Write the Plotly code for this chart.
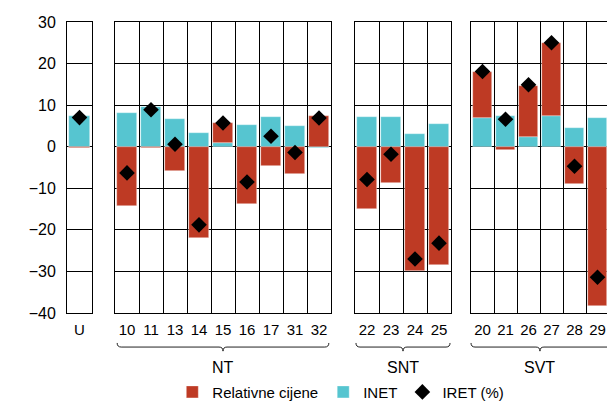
import plotly.graph_objects as go
from plotly.subplots import make_subplots

# groups and categories
groups = ["", "NT", "SNT", "SVT"]
cats = [["U"],
	["10", "11", "13", "14", "15", "16", "17", "31", "32"],
	["22", "23", "24", "25"],
	["20", "21", "26", "27", "28", "29"]]

inet = [[7.4],
	[8.0, 9.5, 6.6, 3.4, 0.8, 5.3, 7.1, 5.0, -0.4],
	[7.1, 7.1, 3.0, 5.4],
	[6.8, 7.5, 2.4, 7.3, 4.5, 6.9]]

rel = [[-0.3],
	[-14.2, -0.4, -5.9, -22.0, 4.9, -13.7, -4.6, -6.5, 7.4],
	[-14.9, -8.7, -30.0, -28.4],
	[11.2, -0.8, 12.3, 17.6, -9.0, -38.2]]

iret = [[7.0],
	[-6.3, 8.9, 0.6, -18.8, 5.7, -8.5, 2.5, -1.4, 6.9],
	[-7.9, -1.8, -27.0, -23.2],
	[18.1, 6.6, 14.9, 25.0, -4.7, -31.4]]

red = '#BE3A24'
teal = '#56C5D0'
font = "Liberation Sans, Arial, sans-serif"

# page body has an 8px margin: keep the whole figure inside the window
PW = 540.0
domains = [[0, 25 / PW], [48 / PW, 264 / PW], [288 / PW, 384 / PW], [404 / PW, 1]]

fig = make_subplots(rows=1, cols=4, shared_yaxes=True, horizontal_spacing=0)

for i in range(4):
	col = i + 1
	first = (i == 0)
	fig.add_trace(go.Bar(x=cats[i], y=inet[i], name='INET', marker_color=teal,
		width=0.82, showlegend=first, legendrank=2,
		marker_line=dict(width=0.6, color='rgba(255,255,255,0.6)')), row=1, col=col)
	fig.add_trace(go.Bar(x=cats[i], y=rel[i], name='Relativne cijene', marker_color=red,
		width=0.82, showlegend=first, legendrank=1,
		marker_line=dict(width=0.6, color='rgba(255,255,255,0.6)')), row=1, col=col)
	fig.add_trace(go.Scatter(x=cats[i], y=iret[i], name='IRET (%)', mode='markers',
		marker=dict(symbol='diamond', size=12, color='black'),
		showlegend=first, legendrank=3, cliponaxis=True), row=1, col=col)

	n = len(cats[i])
	rng = [-0.5, n - 0.5]
	if i == 3:
		rng = [-0.5, -0.5 + 136 / 23.0]  # last panel is cut by the right edge
	xa = 'xaxis' if i == 0 else 'xaxis%d' % col
	fig.layout[xa].update(domain=domains[i], type='category', range=rng,
		tickson='boundaries', showgrid=True, gridcolor='black', gridwidth=1,
		showline=True, linecolor='black', linewidth=1, mirror=True,
		ticks='', tickangle=0, ticklabelstandoff=3, automargin=False, fixedrange=True,
		tickfont=dict(size=15))
	ya = 'yaxis' if i == 0 else 'yaxis%d' % col
	fig.layout[ya].update(range=[-40, 30], dtick=10, showgrid=True, gridcolor='black',
		gridwidth=1, zeroline=True, zerolinecolor='black', zerolinewidth=1,
		showline=True, linecolor='black', linewidth=1, mirror=(i != 3), ticks='',
		automargin=False)

	# brackets and group labels
	if groups[i]:
		xd = ('x%d domain' % col)
		x0, x1, xc = 0.01, 0.99, 0.5
		s = 4.0 / (domains[i][1] - domains[i][0]) / PW
		if i == 3:
			x0, x1, xc = 0.0, 1.05, 0.507
		yb, yu, yd = -0.117, -0.103, -0.131
		path = (f"M{x0},{yu} Q{x0},{yb} {x0 + s},{yb} L{xc - s},{yb} Q{xc},{yb} {xc},{yd} "
			f"Q{xc},{yb} {xc + s},{yb} L{x1 - s},{yb} Q{x1},{yb} {x1},{yu}")
		fig.add_shape(type='path', path=path, xref=xd, yref='paper',
			line=dict(color='#222', width=1))
		fig.add_annotation(text=groups[i], xref=xd, x=xc, yref='paper', y=-0.186,
			yanchor='middle', showarrow=False, font=dict(size=16, color='black', family=font))

fig.layout.yaxis.update(ticklabelstandoff=7, tickfont=dict(size=16))

# top rule
fig.add_shape(type='line', xref='paper', yref='paper', x0=-0.112, x1=1.0, y0=1.052, y1=1.052,
	line=dict(color='#777', width=2))

fig.update_layout(
	width=599, height=394,
	margin=dict(l=59, r=0, t=14, b=89, autoexpand=False),
	barmode='relative',
	bargap=0,
	plot_bgcolor='white',
	paper_bgcolor='white',
	font=dict(family=font, size=15, color='black'),
	legend=dict(orientation='h', x=0.195, xanchor='left', yref='container', y=0.025,
		yanchor='middle', font=dict(size=15), traceorder='normal', itemwidth=30),
)

fig.write_html("out.html")
